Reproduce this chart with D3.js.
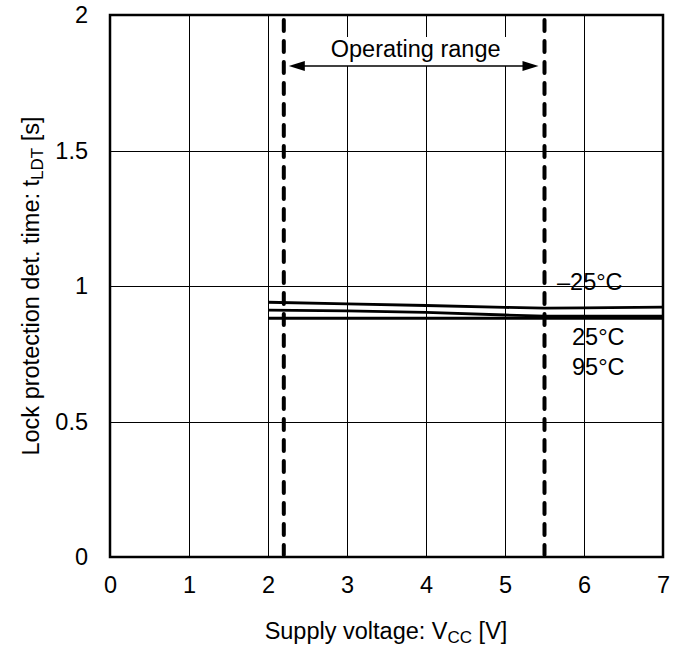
<!DOCTYPE html>
<html><head><meta charset="utf-8">
<script src="https://cdn.jsdelivr.net/npm/d3@7"></script>
<style>body{margin:0;background:#fff}svg{display:block;font-family:"Liberation Sans",Arial,sans-serif}</style>
</head><body><svg id="c" width="684" height="653"></svg>
<script>
const xTicks = [0,1,2,3,4,5,6,7];
const yTicks = [0,0.5,1,1.5,2];
const yTickLabels = ["0","0.5","1","1.5","2"];
const voltage = [2,3,4,5,5.5,6,7];
const tM25 = [0.940,0.934,0.928,0.921,0.918,0.919,0.922];
const t25  = [0.911,0.908,0.903,0.893,0.889,0.889,0.889];
const t95  = [0.881,0.881,0.881,0.881,0.881,0.881,0.881];
const seriesLabels = ["\u201325\u00b0C","25\u00b0C","95\u00b0C"];
const opRange = [2.2,5.5];

const FS = 23.5;
const svg = d3.select("#c");
const L=110,R=663,T=15,B=557;
const x = d3.scaleLinear().domain([0,7]).range([L,R]);
const y = d3.scaleLinear().domain([0,2]).range([B,T]);

// grid
svg.append("g").selectAll("line").data(xTicks.slice(1,-1)).join("line")
 .attr("x1",d=>x(d)).attr("x2",d=>x(d)).attr("y1",T).attr("y2",B)
 .attr("stroke","#000").attr("stroke-width",1).attr("shape-rendering","crispEdges");
svg.append("g").selectAll("line").data(yTicks.slice(1,-1)).join("line")
 .attr("y1",d=>Math.round(y(d))+0.5).attr("y2",d=>Math.round(y(d))+0.5).attr("x1",L).attr("x2",R)
 .attr("stroke","#000").attr("stroke-width",1);

// axes labels via d3 axis (no tick lines)
const xa = svg.append("g").attr("transform",`translate(0,${B})`)
 .call(d3.axisBottom(x).tickValues(xTicks).tickSize(0).tickPadding(19).tickFormat(d3.format("d")));
xa.select(".domain").remove();
xa.selectAll("text").attr("font-size",FS).attr("font-family","Liberation Sans, Arial, sans-serif").attr("fill","#000");
const ya = svg.append("g").attr("transform",`translate(${L},0)`)
 .call(d3.axisLeft(y).tickValues(yTicks).tickSize(0).tickPadding(22).tickFormat((d,i)=>yTickLabels[i]));
ya.select(".domain").remove();
ya.selectAll("text").attr("font-size",FS).attr("font-family","Liberation Sans, Arial, sans-serif").attr("fill","#000");

// data lines
const line = d3.line().x((d,i)=>x(voltage[i])).y(d=>y(d));
[tM25,t25,t95].forEach(s=>{
 svg.append("path").attr("d",line(s)).attr("fill","none").attr("stroke","#000").attr("stroke-width",2.8);
});

// operating range dashed lines
svg.append("g").selectAll("line").data(opRange).join("line")
 .attr("x1",d=>x(d)).attr("x2",d=>x(d)).attr("y1",T+5).attr("y2",B-2)
 .attr("stroke","#000").attr("stroke-width",4).attr("stroke-dasharray","11,10").attr("stroke-linecap","round");

// arrow
const ay=66, a1=x(opRange[0])+5, a2=x(opRange[1])-6;
svg.append("rect").attr("x",a1).attr("y",37).attr("width",a2-a1).attr("height",ay-37).attr("fill","#fff");
svg.append("line").attr("x1",a1+10).attr("x2",a2-10).attr("y1",ay).attr("y2",ay).attr("stroke","#000").attr("stroke-width",1.5);
svg.append("path").attr("d",`M${a1},${ay}L${a1+16},${ay-5}L${a1+16},${ay+5}Z`).attr("fill","#000");
svg.append("path").attr("d",`M${a2},${ay}L${a2-16},${ay-5}L${a2-16},${ay+5}Z`).attr("fill","#000");
svg.append("text").attr("x",(a1+a2)/2+2).attr("y",57).attr("text-anchor","middle").attr("font-size",FS).text("Operating range");

// series labels
const lab=[[557,290],[572,345],[572,375]];
seriesLabels.forEach((t,i)=>svg.append("text").attr("x",lab[i][0]).attr("y",lab[i][1]).attr("font-size",FS).text(t));

// border
svg.append("rect").attr("x",L).attr("y",T).attr("width",R-L).attr("height",B-T).attr("fill","none").attr("stroke","#000").attr("stroke-width",2.5);

// axis titles
const xt = svg.append("text").attr("x",386).attr("y",639).attr("text-anchor","middle").attr("font-size",FS);
xt.append("tspan").text("Supply voltage: V");
xt.append("tspan").attr("font-size",17).attr("dy",4).text("CC");
xt.append("tspan").attr("dy",-4).text(" [V]");
const yt = svg.append("text").attr("transform","translate(39,286) rotate(-90)").attr("text-anchor","middle").attr("font-size",FS);
yt.append("tspan").text("Lock protection det. time: t");
yt.append("tspan").attr("font-size",17).attr("dy",4).text("LDT");
yt.append("tspan").attr("dy",-4).text(" [s]");
</script></body></html>
